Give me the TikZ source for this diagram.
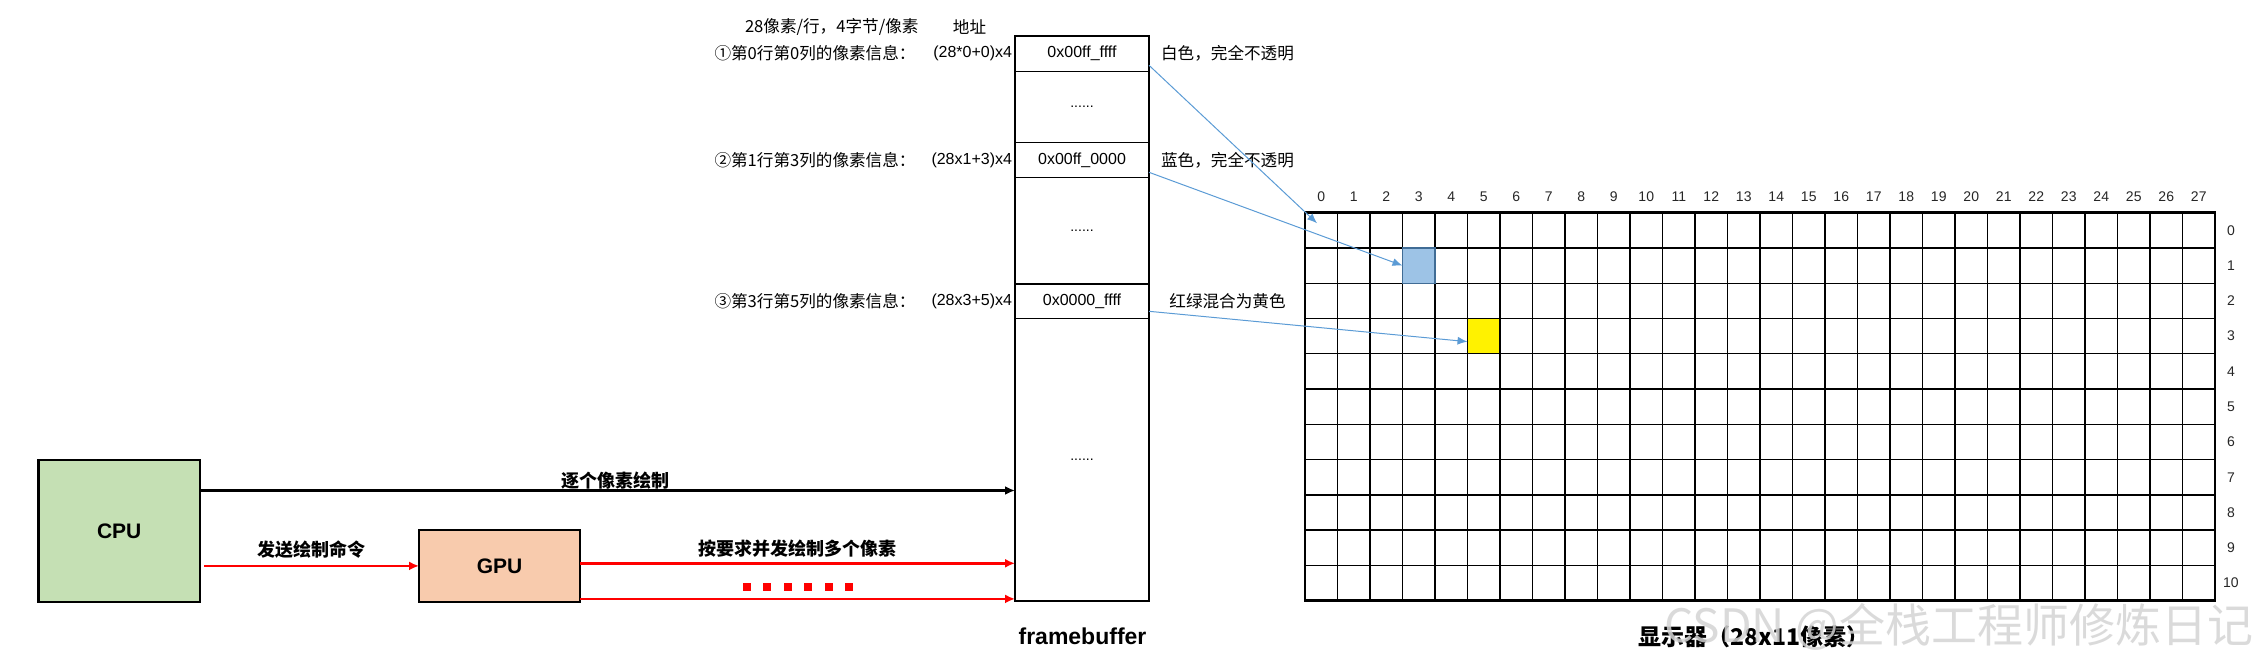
\documentclass[tikz,border=0pt]{standalone}
\usepackage{fontspec}
\setmainfont{Liberation Sans}
\newfontfamily\cjk{Noto Sans CJK SC}
\usetikzlibrary{arrows.meta,positioning}
\definecolor{cpugreen}{HTML}{C5E0B4}
\definecolor{gpuorange}{HTML}{F8CBAD}
\definecolor{ptrblue}{HTML}{5B9BD5}
\definecolor{cellblue}{HTML}{9DC3E6}
\definecolor{wmgray}{HTML}{D4D4D4}

\begin{document}
\begin{tikzpicture}[x=0.5pt, y=-0.5pt, every node/.style={inner sep=0pt, outer sep=0pt, font=\fontsize{8}{9.6}\selectfont}, >={Latex[length=5pt,width=4.5pt]},
	cn/.style={font=\cjk\fontsize{8.3}{10}\selectfont},
	boldcn/.style={font=\cjk\bfseries\fontsize{9}{10.8}\selectfont},
	fbcell/.style={draw, line width=0.6pt, minimum width=67pt, anchor=north},
	chip/.style={draw, line width=1.25pt, font=\bfseries\fontsize{10.5}{12.6}\selectfont},
	pixel/.style={minimum width=16.25pt, minimum height=17.635pt, line width=0.65pt},
	ptr/.style={-{Latex[length=5pt,width=4pt]}, draw=ptrblue, line width=0.5pt},
	num/.style={font=\fontsize{7}{8.4}\selectfont, text=black!85}]
	\useasboundingbox (0,0) rectangle (2257,669);
	\node[fbcell, minimum height=17.8pt] (addr0) at (1082,35.7) {0x00ff\_ffff};
	\node[fbcell, minimum height=35.7pt, below=0pt of addr0, font=\fontsize{7}{8.4}\selectfont] (gap1) {......};
	\node[fbcell, minimum height=17.3pt, below=0pt of gap1] (addr1) {0x00ff\_0000};
	\node[fbcell, minimum height=53.35pt, below=0pt of addr1, font=\fontsize{7}{8.4}\selectfont] (gap2) {......};
	\node[fbcell, minimum height=17.15pt, below=0pt of gap2] (addr2) {0x0000\_ffff};
	\node[fbcell, minimum height=141.2pt, below=0pt of addr2, font=\fontsize{7}{8.4}\selectfont] (gap3) {......};
	\draw[line width=1pt] (addr0.north west) rectangle (gap3.south east);
	\node[cn, anchor=west] (hdr) at (745,26.7) {28像素/行，4字节/像素};
	\node[cn] (hdraddr) at (969.5,26.7) {地址};
	\node[cn, anchor=west] (info0) at (714.5,0 |- addr0) {①第0行第0列的像素信息：};
	\node[anchor=east] (ofs0) at (1012,0 |- addr0) {(28*0+0)x4};
	\node[cn] (desc0) at (1227.5,0 |- addr0) {白色，完全不透明};
	\node[cn, anchor=west] (info1) at (714.5,0 |- addr1) {②第1行第3列的像素信息：};
	\node[anchor=east] (ofs1) at (1012,0 |- addr1) {(28x1+3)x4};
	\node[cn] (desc1) at (1227.5,0 |- addr1) {蓝色，完全不透明};
	\node[cn, anchor=west] (info2) at (714.5,0 |- addr2) {③第3行第5列的像素信息：};
	\node[anchor=east] (ofs2) at (1012,0 |- addr2) {(28x3+5)x4};
	\node[cn] (desc2) at (1227.5,0 |- addr2) {红绿混合为黄色};
	\begin{scope}[shift={(1305,212.7)}, x=16.25pt, y=-17.635pt]
		\foreach \i in {1,...,27} \draw[line width=0.65pt] (\i,0) -- (\i,11);
		\foreach \j in {1,...,10} \draw[line width=0.65pt] (0,\j) -- (28,\j);
		\node[pixel, fill=cellblue, draw=ptrblue!70!black] (px13) at (3.5,1.5) {};
		\node[pixel, fill=yellow, draw=black] (px35) at (5.5,3.5) {};
		\draw[line width=1.3pt] (0,0) rectangle (28,11);
		\foreach \i in {0,...,27} \node[num] at (\i+0.5,-0.45) {\i};
		\foreach \j in {0,...,10} \node[num] at (28.49,\j+0.5) {\j};
		\coordinate (px00) at (0.37,0.3);
	\end{scope}
	\draw[ptr] ([yshift=3pt]addr0.south east) -- (px00);
	\draw[ptr] ([yshift=2.5pt]addr1.south east) -- (px13.west);
	\draw[ptr] ([yshift=3.5pt]addr2.south east) -- ([yshift=-2.75pt]px35.west);
	\node[chip, fill=cpugreen, minimum width=80.85pt, minimum height=70.85pt] (cpu) at (119.2,530.9) {CPU};
	\node[chip, fill=gpuorange, minimum width=80.5pt, minimum height=35.85pt] (gpu) at (499.5,565.9) {GPU};
	\coordinate (cpuout) at ([yshift=20.2pt]cpu.east);
	\coordinate (gpuout1) at ([yshift=1.3pt]gpu.east);
	\coordinate (gpuout2) at ([yshift=-16.5pt]gpu.east);
	\draw[->, line width=1.35pt] (cpuout) -- (cpuout -| gap3.west) node[boldcn, midway, above=0.75pt, xshift=4pt] (lblcpu) {逐个像素绘制};
	\draw[->, red, line width=1.35pt] ([xshift=2pt]cpu.east |- gpu.west) -- (gpu.west) node[boldcn, text=black, midway, above=3.8pt] (lblcmd) {发送绘制命令};
	\draw[->, red, line width=1.35pt] (gpuout1) -- (gpuout1 -| gap3.west) node[boldcn, text=black, midway, above=3pt] (lblgpu) {按要求并发绘制多个像素};
	\draw[->, red, line width=1.35pt] (gpuout2) -- (gpuout2 -| gap3.west);
	\foreach \k in {0,...,5} \fill[red] (742.55+20.5*\k,582.55) rectangle +(8.3,8.3);
	\node[font=\bfseries\fontsize{11.5}{13.8}\selectfont] (fblabel) at (1082.5,636.7) {framebuffer};
	\node[font=\cjk\bfseries\fontsize{11.5}{13.8}\selectfont] (scrlabel) at (1754,636.7) {显示器（28x11像素）};
	\node[font=\cjk\fontsize{23}{27}\selectfont, text=wmgray, text opacity=0.85, anchor=east] (wm) at (2253,627) {CSDN @全栈工程师修炼日记};
\end{tikzpicture}
\end{document}
